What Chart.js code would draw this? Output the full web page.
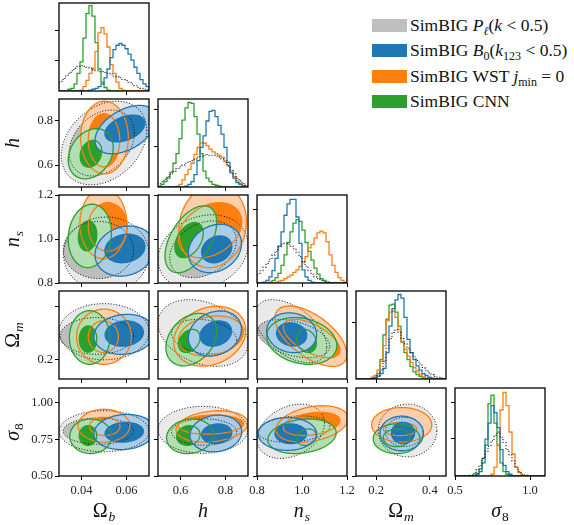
<!DOCTYPE html>
<html>
<head>
<meta charset="utf-8">
<script src="https://cdn.jsdelivr.net/npm/chart.js@4.4.1/dist/chart.umd.min.js"></script>
<style>
    html, body { margin: 0; padding: 0; background: #fff; }
    #figure { position: relative; width: 574px; height: 525px; overflow: hidden; }
    #figure canvas { position: absolute; }
    .item { position: absolute; left: 372px; height: 19px; display: flex; align-items: center;
            font-family: "Liberation Serif", serif; font-size: 17.5px; color: #111; white-space: nowrap; }
    .swatch { width: 35px; height: 13px; margin-right: 3px; flex: none; }
    .item sub { font-size: 12px; line-height: 0; vertical-align: -4px; }
</style>
</head>
<body>
<div id="figure"></div>
<script>
// parameters, in corner order
const titleMain = ['Ω', 'h', 'n', 'Ω', 'σ'];
const titleSub = ['b', '', 's', 'm', '8'];
const titleItalic = [false, true, true, false, true];
const subItalic = [true, false, true, true, false];
const paramMin = [0.03, 0.5, 0.8, 0.125, 0.5];
const paramMax = [0.07, 0.9, 1.2, 0.46, 1.1];
const xTicks = [[0.04, 0.06], [0.6, 0.8], [0.8, 1.0, 1.2], [0.2, 0.4], [0.5, 1.0]];
const xTickLabels = [['0.04', '0.06'], ['0.6', '0.8'], ['0.8', '1.0', '1.2'], ['0.2', '0.4'], ['0.5', '1.0']];
const yTicks = [[], [0.6, 0.8], [0.8, 1.0, 1.2], [0.2, 0.4], [0.5, 0.75, 1.0]];
const yTickLabels = [[], ['0.6', '0.8'], ['0.8', '1.0', '1.2'], ['0.2', ''], ['0.50', '0.75', '1.00']];
const histTicks = [[0.345, 0.69], [0.455, 0.886], [0.43, 0.84], [0.64], [0.43, 0.83]];

const seriesNames = ['SimBIG P(k<0.5)', 'SimBIG B0(k123<0.5)', 'SimBIG WST jmin=0', 'SimBIG CNN'];

// marginal histograms, 30 bins over each parameter range (height as fraction of panel)
const histPk = [
    [0.1, 0.13, 0.17, 0.2, 0.23, 0.26, 0.28, 0.29, 0.28, 0.27, 0.26, 0.24, 0.23, 0.22, 0.22, 0.21, 0.2, 0.19, 0.17, 0.16, 0.15, 0.13, 0.12, 0.1, 0.08, 0.06, 0.04, 0.03, 0.02, 0.01],
    [0.04, 0.06, 0.09, 0.12, 0.15, 0.18, 0.21, 0.23, 0.25, 0.27, 0.29, 0.3, 0.32, 0.34, 0.35, 0.36, 0.37, 0.36, 0.36, 0.35, 0.34, 0.32, 0.28, 0.24, 0.19, 0.15, 0.1, 0.07, 0.04, 0.02],
    [0.1, 0.14, 0.18, 0.22, 0.27, 0.32, 0.36, 0.41, 0.44, 0.45, 0.44, 0.42, 0.39, 0.35, 0.3, 0.24, 0.19, 0.14, 0.1, 0.07, 0.05, 0.03, 0.02, 0.01, 0, 0, 0, 0, 0, 0],
    [0, 0, 0, 0, 0, 0, 0.01, 0.04, 0.1, 0.2, 0.35, 0.46, 0.53, 0.56, 0.53, 0.46, 0.4, 0.35, 0.3, 0.25, 0.21, 0.17, 0.13, 0.1, 0.07, 0.05, 0.03, 0.02, 0.01, 0],
    [0, 0, 0, 0, 0, 0.01, 0.03, 0.07, 0.12, 0.2, 0.28, 0.34, 0.4, 0.46, 0.5, 0.44, 0.38, 0.3, 0.24, 0.17, 0.1, 0.05, 0.02, 0.01, 0, 0, 0, 0, 0, 0],
];
const histB0 = [
    [0, 0, 0, 0, 0, 0, 0, 0, 0, 0, 0.01, 0.02, 0.03, 0.05, 0.08, 0.15, 0.25, 0.38, 0.47, 0.52, 0.54, 0.52, 0.48, 0.42, 0.35, 0.27, 0.2, 0.13, 0.08, 0.05],
    [0, 0, 0, 0, 0, 0, 0, 0, 0, 0.01, 0.03, 0.06, 0.14, 0.3, 0.45, 0.58, 0.75, 0.86, 0.87, 0.8, 0.7, 0.6, 0.45, 0.28, 0.16, 0.1, 0.05, 0.03, 0.01, 0],
    [0, 0, 0.01, 0.03, 0.07, 0.14, 0.28, 0.42, 0.58, 0.77, 0.9, 0.95, 0.95, 0.75, 0.45, 0.15, 0.07, 0.03, 0.01, 0, 0, 0, 0, 0, 0, 0, 0, 0, 0, 0],
    [0, 0, 0, 0, 0, 0, 0.01, 0.03, 0.06, 0.12, 0.3, 0.6, 0.8, 0.9, 0.96, 0.92, 0.7, 0.45, 0.3, 0.22, 0.15, 0.1, 0.06, 0.04, 0.02, 0.01, 0, 0, 0, 0],
    [0, 0, 0, 0, 0, 0, 0, 0.02, 0.05, 0.15, 0.35, 0.6, 0.8, 0.72, 0.55, 0.3, 0.12, 0.05, 0.02, 0, 0, 0, 0, 0, 0, 0, 0, 0, 0, 0],
];
const histWst = [
    [0, 0, 0, 0, 0, 0, 0, 0.01, 0.05, 0.12, 0.2, 0.25, 0.45, 0.66, 0.72, 0.65, 0.5, 0.3, 0.2, 0.1, 0.03, 0.01, 0, 0, 0, 0, 0, 0, 0, 0],
    [0, 0, 0, 0, 0, 0, 0.01, 0.03, 0.08, 0.14, 0.2, 0.27, 0.37, 0.45, 0.5, 0.5, 0.47, 0.43, 0.4, 0.38, 0.36, 0.34, 0.3, 0.24, 0.18, 0.12, 0.07, 0.04, 0.02, 0.01],
    [0, 0, 0, 0, 0, 0, 0.01, 0.02, 0.03, 0.05, 0.07, 0.09, 0.12, 0.15, 0.19, 0.24, 0.3, 0.4, 0.44, 0.51, 0.57, 0.59, 0.57, 0.47, 0.32, 0.2, 0.12, 0.06, 0.03, 0.01],
    [0, 0, 0, 0, 0, 0.02, 0.04, 0.1, 0.2, 0.38, 0.66, 0.76, 0.77, 0.7, 0.56, 0.42, 0.34, 0.26, 0.19, 0.13, 0.09, 0.05, 0.03, 0.01, 0, 0, 0, 0, 0, 0],
    [0, 0, 0, 0, 0, 0, 0, 0, 0, 0, 0, 0, 0.02, 0.1, 0.35, 0.75, 0.95, 0.8, 0.5, 0.25, 0.1, 0.04, 0.01, 0, 0, 0, 0, 0, 0, 0],
];
const histCnn = [
    [0, 0, 0.005, 0.02, 0.03, 0.08, 0.2, 0.33, 0.6, 0.88, 0.97, 0.85, 0.55, 0.25, 0.1, 0.04, 0.01, 0, 0, 0, 0, 0, 0, 0, 0, 0, 0, 0, 0, 0],
    [0.01, 0.03, 0.06, 0.1, 0.17, 0.27, 0.38, 0.55, 0.76, 0.9, 0.96, 0.95, 0.8, 0.6, 0.38, 0.18, 0.1, 0.06, 0.03, 0.02, 0.01, 0, 0, 0, 0, 0, 0, 0, 0, 0],
    [0, 0, 0, 0, 0.01, 0.03, 0.06, 0.11, 0.2, 0.32, 0.46, 0.58, 0.68, 0.72, 0.7, 0.6, 0.46, 0.36, 0.26, 0.17, 0.1, 0.05, 0.03, 0.01, 0, 0, 0, 0, 0, 0],
    [0, 0, 0, 0, 0, 0, 0.02, 0.06, 0.22, 0.5, 0.68, 0.84, 0.85, 0.76, 0.6, 0.42, 0.3, 0.22, 0.14, 0.08, 0.05, 0.03, 0.01, 0, 0, 0, 0, 0, 0, 0],
    [0, 0, 0, 0, 0, 0, 0.01, 0.03, 0.08, 0.2, 0.42, 0.82, 0.92, 0.6, 0.35, 0.15, 0.05, 0.02, 0, 0, 0, 0, 0, 0, 0, 0, 0, 0, 0, 0],
];

// off-diagonal panels as [x param, y param]
const panelPairs = [[0, 1], [0, 2], [1, 2], [0, 3], [1, 3], [2, 3], [0, 4], [1, 4], [2, 4], [3, 4]];

// contours: [centre x, centre y, half width x, half width y, tilt] in data units
const pkOuter = [
    [0.050, 0.70, 0.019, 0.19, 0.3], [0.051, 0.93, 0.019, 0.17, 0.0], [0.70, 0.94, 0.2, 0.17, 0.2],
    [0.050, 0.305, 0.02, 0.107, 0.0], [0.70, 0.30, 0.2, 0.127, -0.3], [0.95, 0.307, 0.16, 0.12, -0.5],
    [0.050, 0.805, 0.02, 0.14, 0.0], [0.70, 0.815, 0.2, 0.16, 0.0], [0.95, 0.805, 0.15, 0.185, 0.3],
    [0.317, 0.81, 0.109, 0.18, 0.0],
];
const pkInner = [
    [0.049, 0.70, 0.0145, 0.15, 0.3], [0.0475, 0.95, 0.0156, 0.13, 0.0], [0.70, 0.953, 0.148, 0.129, 0.3],
    [0.0468, 0.289, 0.0163, 0.07, 0.0], [0.705, 0.286, 0.145, 0.066, -0.2], [0.963, 0.279, 0.16, 0.073, -0.4],
    [0.0475, 0.806, 0.0156, 0.09, 0.0], [0.705, 0.80, 0.145, 0.09, 0.0], [0.964, 0.82, 0.16, 0.09, 0.2],
    [0.305, 0.80, 0.07, 0.10, 0.0],
];
const b0Outer = [
    [0.0597, 0.761, 0.0137, 0.11, 0.45], [0.0593, 0.945, 0.0133, 0.114, 0.15], [0.753, 0.957, 0.118, 0.11, 0.2],
    [0.059, 0.295, 0.0135, 0.076, 0.1], [0.753, 0.298, 0.118, 0.086, 0.2], [0.954, 0.301, 0.111, 0.076, -0.1],
    [0.059, 0.80, 0.0135, 0.12, 0.1], [0.757, 0.79, 0.115, 0.125, 0.1], [0.935, 0.787, 0.13, 0.112, 0.0],
    [0.295, 0.79, 0.081, 0.118, 0.0],
];
const b0Inner = [
    [0.0593, 0.766, 0.0089, 0.061, 0.4], [0.0593, 0.957, 0.0089, 0.065, 0.15], [0.761, 0.953, 0.067, 0.061, 0.2],
    [0.059, 0.298, 0.0085, 0.048, 0.1], [0.757, 0.298, 0.07, 0.048, 0.2], [0.954, 0.295, 0.067, 0.044, -0.1],
    [0.059, 0.798, 0.0085, 0.067, 0.1], [0.761, 0.788, 0.067, 0.067, 0.1], [0.95, 0.788, 0.07, 0.067, 0.0],
    [0.30, 0.793, 0.043, 0.073, 0.0],
];
const wstOuter = [
    [0.0502, 0.725, 0.0106, 0.165, 0.0], [0.0497, 1.07, 0.0104, 0.16, 0.0], [0.743, 1.06, 0.15, 0.19, 0.1],
    [0.050, 0.286, 0.0122, 0.105, 0.0], [0.73, 0.288, 0.16, 0.114, 0.2], [1.04, 0.288, 0.16, 0.115, -0.6],
    [0.050, 0.843, 0.0115, 0.112, 0.0], [0.74, 0.838, 0.16, 0.107, 0.2], [1.045, 0.855, 0.16, 0.124, 0.3],
    [0.295, 0.849, 0.112, 0.118, 0.0],
];
const wstInner = [
    [0.050, 0.712, 0.007, 0.121, 0.0], [0.0517, 1.055, 0.0087, 0.11, 0.0], [0.731, 1.04, 0.141, 0.125, 0.3],
    [0.0497, 0.286, 0.0067, 0.06, 0.0], [0.735, 0.289, 0.144, 0.076, 0.2], [1.043, 0.279, 0.126, 0.073, -0.6],
    [0.0503, 0.838, 0.0068, 0.062, 0.0], [0.735, 0.85, 0.145, 0.065, 0.1], [1.043, 0.855, 0.126, 0.079, 0.3],
    [0.289, 0.82, 0.062, 0.045, 0.0],
];
const cnnOuter = [
    [0.0441, 0.651, 0.010, 0.114, 0.25], [0.0437, 1.014, 0.0096, 0.144, 0.1], [0.646, 0.999, 0.115, 0.152, 0.5],
    [0.0436, 0.283, 0.009, 0.102, 0.0], [0.648, 0.275, 0.113, 0.1, 0.3], [0.999, 0.27, 0.156, 0.089, -0.2],
    [0.0441, 0.771, 0.0093, 0.118, 0.0], [0.642, 0.771, 0.104, 0.118, 0.1], [1.0, 0.771, 0.152, 0.118, 0.2],
    [0.276, 0.754, 0.087, 0.101, 0.0],
];
const cnnInner = [
    [0.0442, 0.651, 0.0048, 0.061, 0.2], [0.0427, 1.014, 0.0041, 0.068, 0.1], [0.638, 0.995, 0.063, 0.08, 0.4],
    [0.0429, 0.277, 0.0039, 0.05, 0.0], [0.639, 0.27, 0.048, 0.044, 0.3], [1.02, 0.27, 0.044, 0.044, -0.2],
    [0.0429, 0.776, 0.0039, 0.067, 0.0], [0.635, 0.776, 0.052, 0.067, 0.1], [1.02, 0.765, 0.044, 0.056, 0.2],
    [0.276, 0.76, 0.05, 0.06, 0.0],
];

// styling
const serif = '"Liberation Serif", "Times New Roman", serif';
const pkStyle = {outerFill: '#e9e9e9', innerFill: '#bdbdbd', line: '#111', dash: [1, 1.8], width: 1};
const b0Style = {outerFill: '#abcce6', innerFill: '#1f77b4', line: '#1f77b4', dash: [], width: 1.3};
const wstStyle = {outerFill: '#ffceaa', innerFill: '#ff7f0e', line: '#ff7f0e', dash: [], width: 1.3};
const cnnStyle = {outerFill: '#b3deb1', innerFill: '#2ca02c', line: '#2ca02c', dash: [], width: 1.3};

const colLeft = [59, 158, 257, 356, 455];
const rowTop = [3, 99, 195, 291, 388];
const panelW = 90;
const panelH = 88;

const figure = document.getElementById('figure');

function contourPath(ctx, xs, ys, c) {
    const [cx, cy, bx, by, rho] = c;
    const q = Math.sqrt(1 - rho * rho);
    ctx.beginPath();
    for (let k = 0; k <= 96; k++) {
        const t = (k / 96) * 2 * Math.PI;
        const px = xs.getPixelForValue(cx + bx * Math.cos(t));
        const py = ys.getPixelForValue(cy + by * (rho * Math.cos(t) + q * Math.sin(t)));
        if (k === 0) {
            ctx.moveTo(px, py);
        } else {
            ctx.lineTo(px, py);
        }
    }
    ctx.closePath();
}

function drawMath(ctx, k, x, y) {
    const mainFont = (titleItalic[k] ? 'italic ' : '') + '20px ' + serif;
    const subFont = (subItalic[k] ? 'italic ' : '') + '13.5px ' + serif;
    ctx.font = mainFont;
    const w1 = ctx.measureText(titleMain[k]).width;
    ctx.font = subFont;
    const w2 = titleSub[k] ? ctx.measureText(titleSub[k]).width + 1 : 0;
    const start = x - (w1 + w2) / 2;
    ctx.textAlign = 'left';
    ctx.textBaseline = 'alphabetic';
    ctx.fillStyle = '#111';
    ctx.font = mainFont;
    ctx.fillText(titleMain[k], start, y);
    if (titleSub[k]) {
        ctx.font = subFont;
        ctx.fillText(titleSub[k], start + w1 + 1, y + 4);
    }
}

function panelPlugin(row, col, pairIdx) {
    return {
        id: 'panel' + row + col,
        beforeDatasetsDraw(chart) {
            if (pairIdx < 0) {
                return;
            }
            const {ctx, chartArea: a} = chart;
            const xs = chart.scales.x;
            const ys = chart.scales.y;
            const layers = [
                [pkOuter, pkInner, pkStyle],
                [wstOuter, wstInner, wstStyle],
                [cnnOuter, cnnInner, cnnStyle],
                [b0Outer, b0Inner, b0Style],
            ];
            ctx.save();
            ctx.beginPath();
            ctx.rect(a.left, a.top, a.right - a.left, a.bottom - a.top);
            ctx.clip();
            layers.forEach(([outer, inner, st]) => {
                contourPath(ctx, xs, ys, outer[pairIdx]);
                ctx.fillStyle = st.outerFill;
                ctx.fill();
                contourPath(ctx, xs, ys, inner[pairIdx]);
                ctx.fillStyle = st.innerFill;
                ctx.fill();
            });
            layers.forEach(([outer, inner, st]) => {
                ctx.strokeStyle = st.line;
                ctx.lineWidth = st.width;
                ctx.setLineDash(st.dash);
                contourPath(ctx, xs, ys, outer[pairIdx]);
                ctx.stroke();
                contourPath(ctx, xs, ys, inner[pairIdx]);
                ctx.stroke();
            });
            ctx.restore();
        },
        afterDraw(chart) {
            const {ctx, chartArea: a} = chart;
            ctx.save();
            ctx.strokeStyle = '#000';
            ctx.lineWidth = 1.3;
            ctx.strokeRect(a.left, a.top, a.right - a.left, a.bottom - a.top);
            if (col === 0 && row > 0) {
                ctx.translate(19, (a.top + a.bottom) / 2);
                ctx.rotate(-Math.PI / 2);
                drawMath(ctx, row, 0, 0);
                ctx.setTransform(1, 0, 0, 1, 0, 0);
            }
            if (row === 4) {
                drawMath(ctx, col, (a.left + a.right) / 2, a.bottom + 41);
            }
            ctx.restore();
        },
    };
}

function axisOptions(pos, min, max, values, labels, size) {
    return {
        type: 'linear',
        position: pos,
        min,
        max,
        bounds: 'data',
        afterBuildTicks: (s) => {
            s.ticks = values.map((v) => ({value: v}));
        },
        afterFit: (s) => {
            if (pos === 'left') {
                s.width = size;
            } else {
                s.height = size;
            }
            s.paddingLeft = 0;
            s.paddingRight = 0;
            s.paddingTop = 0;
            s.paddingBottom = 0;
        },
        ticks: {
            autoSkip: false,
            maxRotation: 0,
            padding: pos === 'left' ? 2 : 3,
            color: '#222',
            font: {family: serif, size: 12.5},
            callback: (v, i) => (labels[i] !== undefined ? labels[i] : ''),
        },
        grid: {
            display: true,
            drawOnChartArea: false,
            drawTicks: true,
            tickLength: 4,
            tickColor: '#000',
            tickWidth: 1,
        },
        border: {display: false},
    };
}

function histDataset(counts, k, color, dash) {
    const lo = paramMin[k];
    const w = (paramMax[k] - lo) / counts.length;
    const pts = [{x: lo, y: 0}];
    counts.forEach((c, i) => pts.push({x: lo + i * w, y: c}));
    pts.push({x: paramMax[k], y: 0});
    return {
        data: pts,
        borderColor: color,
        borderWidth: dash.length ? 1.1 : 1.3,
        borderDash: dash,
        pointRadius: 0,
        stepped: 'before',
        fill: false,
    };
}

for (let row = 0; row < 5; row++) {
    for (let col = 0; col <= row; col++) {
        const padL = col === 0 ? colLeft[0] : 14;
        const padB = row === 4 ? 525 - (rowTop[4] + panelH) : 8;
        const padT = 9;
        const padR = 14;
        const canvas = document.createElement('canvas');
        canvas.width = padL + panelW + padR;
        canvas.height = padT + panelH + padB;
        canvas.style.left = (colLeft[col] - padL) + 'px';
        canvas.style.top = (rowTop[row] - padT) + 'px';
        figure.appendChild(canvas);

        const diag = row === col;
        const xLabels = row === 4 ? xTickLabels[col] : [];
        const yLabels = col === 0 && !diag ? yTickLabels[row] : [];
        const pairIdx = diag ? -1 : panelPairs.findIndex((p) => p[0] === col && p[1] === row);

        const datasets = diag ? [
            histDataset(histPk[col], col, '#222', [1.2, 1.8]),
            histDataset(histB0[col], col, '#1f77b4', []),
            histDataset(histWst[col], col, '#ff7f0e', []),
            histDataset(histCnn[col], col, '#2ca02c', []),
        ] : [];
        datasets.forEach((d, i) => {
            d.label = seriesNames[i];
        });

        new Chart(canvas, {
            type: diag ? 'line' : 'scatter',
            data: {datasets},
            options: {
                responsive: false,
                animation: false,
                devicePixelRatio: 1,
                layout: {padding: {top: padT, right: padR, left: 0, bottom: 0}},
                plugins: {legend: {display: false}, tooltip: {enabled: false}},
                scales: {
                    x: axisOptions('bottom', paramMin[col], paramMax[col], xTicks[col], xLabels, padB),
                    y: diag
                        ? axisOptions('left', 0, 1, histTicks[col], [], padL)
                        : axisOptions('left', paramMin[row], paramMax[row], yTicks[row], yLabels, padL),
                },
            },
            plugins: [panelPlugin(row, col, pairIdx)],
        });
    }
}
</script>
<div class="item" style="top:16px"><span class="swatch" style="background:#bfbfbf"></span><span>SimBIG <i>P</i><sub><i>ℓ</i></sub>(<i>k</i> &lt; 0.5)</span></div>
<div class="item" style="top:41.3px"><span class="swatch" style="background:#1f77b4"></span><span>SimBIG <i>B</i><sub>0</sub>(<i>k</i><sub>123</sub> &lt; 0.5)</span></div>
<div class="item" style="top:66.6px"><span class="swatch" style="background:#ff7f0e"></span><span>SimBIG WST <i>j</i><sub>min</sub> = 0</span></div>
<div class="item" style="top:91.9px"><span class="swatch" style="background:#2ca02c"></span><span>SimBIG CNN</span></div>
</body>
</html>
